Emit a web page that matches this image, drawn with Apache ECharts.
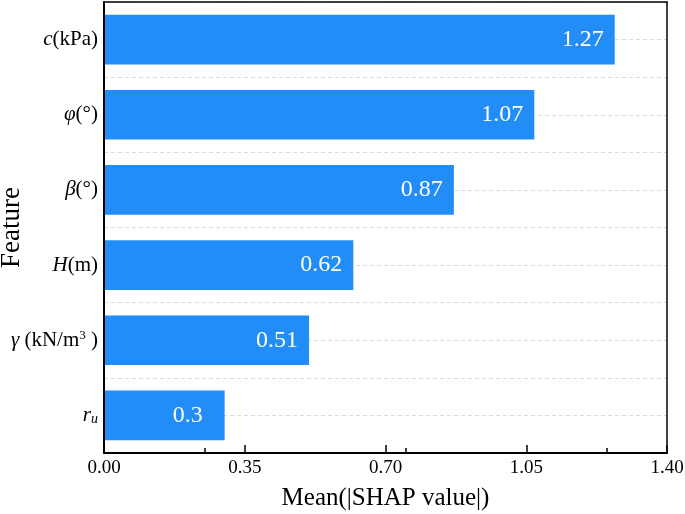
<!DOCTYPE html>
<html><head><meta charset="utf-8">
<script src="https://cdn.jsdelivr.net/npm/echarts@6/dist/echarts.min.js"></script>
<style>html,body{margin:0;padding:0;background:#fff}#c{width:685px;height:514px}</style>
</head><body><div id="c"></div>
<script>
const categories = ['c(kPa)', 'φ(°)', 'β(°)', 'H(m)', 'γ (kN/m3 )', 'ru'];
const values = [1.27, 1.07, 0.87, 0.62, 0.51, 0.3];
const valueLabels = ['1.27', '1.07', '0.87', '0.62', '0.51', '0.3'];
const xTicks = [0, 0.35, 0.70, 1.05, 1.40];
const minorTicks = [0.25, 0.75, 1.25];

const richLabels = [
  '{it|c}{n|(kPa)}',
  '{it|φ}{n|(°)}',
  '{it|β}{n|(°)}',
  '{it|H}{n|(m)}',
  '{it|γ}{n| (kN/m}{sup|3}{n| )}',
  '{it|r}{sub|u}'
];
const FONT = 'Liberation Serif';
const chart = echarts.init(document.getElementById('c'), null, {renderer: 'canvas'});
chart.setOption({
  animation: false,
  backgroundColor: '#fff',
  textStyle: {fontFamily: FONT},
  grid: {left: 104, right: 18, top: 2, bottom: 61, show: false, outerBoundsMode: 'none', containLabel: false},
  xAxis: [{
    type: 'value', min: 0, max: 1.4, interval: 0.35,
    name: 'Mean(|SHAP value|)', nameLocation: 'middle', nameGap: 33, nameMoveOverlap: false,
    nameTextStyle: {fontFamily: FONT, fontSize: 25, color: '#000'},
    axisLine: {show: true, lineStyle: {color: '#000', width: 2}},
    axisTick: {show: true, inside: true, length: 8, lineStyle: {color: '#000', width: 1.5}},
    axisLabel: {fontFamily: FONT, fontSize: 19, color: '#000', margin: 6,
      formatter: v => v.toFixed(2)},
    splitLine: {show: false}, z: 10
  }, {
    type: 'value', min: 0, max: 1.4, position: 'bottom',
    axisLine: {show: false},
    axisTick: {show: true, inside: true, length: 5, customValues: minorTicks, lineStyle: {color: '#000', width: 1.5}},
    axisLabel: {show: false},
    splitLine: {show: false}, z: 10
  }, {
    type: 'value', min: 0, max: 1.4, position: 'top',
    axisLine: {show: true, onZero: false, lineStyle: {color: '#000', width: 1.5}},
    axisTick: {show: false}, axisLabel: {show: false}, splitLine: {show: false}, z: 10
  }],
  yAxis: [{
    type: 'category', data: categories, inverse: true,
    name: 'Feature', nameLocation: 'middle', nameGap: 79, nameRotate: 90, nameMoveOverlap: false,
    nameTextStyle: {fontFamily: FONT, fontSize: 27, color: '#000'},
    axisLine: {show: true, lineStyle: {color: '#000', width: 2}},
    axisTick: {show: false},
    splitLine: {show: false},
    axisLabel: {
      margin: 6, color: '#000', fontFamily: FONT, fontSize: 21,
      formatter: (v, i) => richLabels[categories.indexOf(v)],
      rich: {
        it: {fontFamily: FONT, fontSize: 21, fontStyle: 'italic', color: '#000'},
        n: {fontFamily: FONT, fontSize: 21, color: '#000'},
        sup: {fontFamily: FONT, fontSize: 13, color: '#000', padding: [0, 0, 10, 0]},
        sub: {fontFamily: FONT, fontSize: 14, fontStyle: 'italic', color: '#000', padding: [8, 0, 0, 0]}
      }
    }, z: 10
  }, {
    type: 'value', min: 0, max: 12, interval: 1, position: 'left',
    axisLine: {show: false}, axisTick: {show: false}, axisLabel: {show: false},
    splitLine: {show: true, lineStyle: {color: '#dcdcdc', type: [4, 3], width: 1}}, z: 0
  }, {
    type: 'value', min: 0, max: 12, position: 'right',
    axisLine: {show: true, onZero: false, lineStyle: {color: '#000', width: 1.5}},
    axisTick: {show: false}, axisLabel: {show: false}, splitLine: {show: false}, z: 10
  }],
  series: [{
    type: 'bar', xAxisIndex: 0, yAxisIndex: 0,
    barCategoryGap: '34%',
    itemStyle: {color: '#228CF7'},
    data: values.map((v, i) => ({
      value: v,
      label: {distance: i === 5 ? 22 : 11}
    })),
    label: {
      show: true, position: 'insideRight', color: '#fff',
      fontFamily: FONT, fontSize: 24,
      formatter: p => valueLabels[p.dataIndex]
    },
    z: 3
  }]
});
</script></body></html>
